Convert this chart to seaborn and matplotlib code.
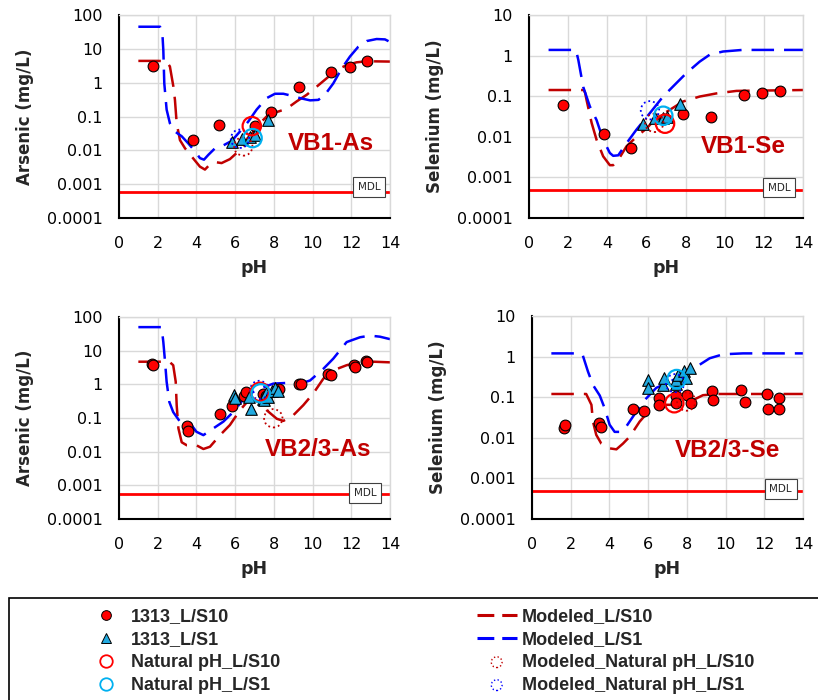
import numpy as np
import matplotlib
matplotlib.use("Agg")
import matplotlib.pyplot as plt
import seaborn as sns
from matplotlib.lines import Line2D
from matplotlib.patches import Rectangle
from matplotlib.font_manager import FontProperties
from matplotlib.ticker import FixedLocator, FixedFormatter, MultipleLocator, LogLocator, NullFormatter

sns.set_style("white")
plt.rcParams['font.family'] = ['DejaVu Sans']

# ---------------- data: VB1-As ----------------
as1_ph10 = [1.74, 3.81, 5.18, 7.00, 7.87, 9.30, 10.95, 11.92, 12.83]
as1_c10 = [3.2, 0.020, 0.056, 0.052, 0.14, 0.73, 2.1, 3.0, 4.3]
as1_ph1 = [5.82, 6.34, 6.77, 7.02, 7.71]
as1_c1 = [0.018, 0.021, 0.025, 0.028, 0.079]
as1_nat10_ph = [6.86]
as1_nat10_c = [0.052]
as1_nat1_ph = [6.90]
as1_nat1_c = [0.023]
as1_mnat10_ph = [6.42]
as1_mnat10_c = [0.013]
as1_mnat1_ph = [6.25]
as1_mnat1_c = [0.022]
as1_mod10_ph = [1.0, 2.0, 2.45, 2.63, 2.81, 2.89, 2.98, 3.15, 3.41, 3.75, 4.18, 4.44, 4.67, 4.96, 5.30, 5.73,
                6.17, 6.60, 6.94, 7.37, 7.80, 8.23, 8.66, 9.18, 9.70, 10.21, 10.73, 11.25, 11.76, 12.28, 12.80, 14.0]
as1_mod10_c = [4.4, 4.4, 4.3, 3.0, 0.76, 0.31, 0.063, 0.020, 0.0115, 0.0066, 0.0033, 0.0027, 0.0037, 0.0045, 0.0042,
               0.0055, 0.0093, 0.016, 0.036, 0.071, 0.126, 0.14, 0.17, 0.28, 0.44, 0.76, 1.35, 2.4, 3.3, 4.0, 4.3, 4.2]
as1_mod1_ph = [1.0, 2.12, 2.24, 2.29, 2.34, 2.46, 2.63, 2.89, 3.24, 3.58, 3.93, 4.18, 4.39, 4.62, 4.96, 5.39, 5.82,
               6.25, 6.68, 7.11, 7.63, 8.06, 8.49, 8.92, 9.35, 9.87, 10.30, 10.64, 11.07, 11.50, 11.93, 12.36, 12.80,
               13.31, 13.74, 14.0]
as1_mod1_c = [45, 45, 29, 9, 0.95, 0.16, 0.063, 0.036, 0.026, 0.016, 0.0093, 0.0059, 0.0053, 0.0074, 0.0115, 0.014,
              0.019, 0.036, 0.071, 0.16, 0.35, 0.47, 0.47, 0.41, 0.35, 0.30, 0.31, 0.44, 0.95, 2.6, 5.9, 11.5, 17,
              19.5, 19, 16]
as1_mdl = 0.00057

# ---------------- data: VB1-Se ----------------
se1_ph10 = [1.75, 3.83, 5.21, 6.90, 7.85, 9.30, 10.97, 11.92, 12.84]
se1_c10 = [0.060, 0.0115, 0.0053, 0.028, 0.036, 0.030, 0.107, 0.117, 0.138]
se1_ph1 = [5.84, 6.44, 6.86, 7.03, 7.72]
se1_c1 = [0.021, 0.029, 0.029, 0.030, 0.065]
se1_nat10_ph = [6.95]
se1_nat10_c = [0.021]
se1_nat1_ph = [6.86]
se1_nat1_c = [0.033]
se1_mnat10_ph = [6.40]
se1_mnat10_c = [0.022]
se1_mnat1_ph = [6.18]
se1_mnat1_c = [0.045]
se1_mod10_ph = [1.0, 2.8, 2.87, 2.94, 3.2, 3.45, 3.79, 4.13, 4.30, 4.56, 4.98, 5.49, 6.0, 6.51, 7.19, 7.87, 8.72,
                9.57, 10.6, 14.0]
se1_mod10_c = [0.142, 0.142, 0.12, 0.081, 0.022, 0.0085, 0.0033, 0.0020, 0.0020, 0.0027, 0.0058, 0.010, 0.016,
               0.029, 0.046, 0.074, 0.098, 0.117, 0.135, 0.142]
se1_mod1_ph = [1.0, 2.4, 2.52, 2.77, 3.11, 3.45, 3.79, 4.13, 4.30, 4.56, 4.98, 5.49, 6.17, 6.85, 7.53, 8.04, 8.72,
               9.23, 9.91, 10.9, 14.0]
se1_mod1_c = [1.38, 1.38, 0.78, 0.17, 0.056, 0.026, 0.0085, 0.004, 0.0034, 0.0035, 0.0069, 0.015, 0.038, 0.098,
              0.21, 0.37, 0.71, 1.05, 1.26, 1.38, 1.38]
se1_mdl = 0.0005

# ---------------- data: VB2/3-As ----------------
as2_ph10 = [1.72, 1.76, 3.50, 3.58, 5.22, 5.82, 6.47, 6.56, 7.45, 7.60, 8.28, 9.31, 9.40, 10.81, 10.95, 12.16,
            12.19, 12.78, 12.80]
as2_c10 = [4.0, 3.8, 0.059, 0.041, 0.13, 0.23, 0.45, 0.60, 0.52, 0.46, 0.71, 1.0, 1.05, 2.0, 1.85, 3.7, 3.2,
           5.1, 4.6]
as2_ph1 = [5.94, 6.00, 6.73, 6.80, 7.42, 7.50, 7.59, 7.71, 7.89, 8.06, 8.23]
as2_c1 = [0.48, 0.40, 0.43, 0.18, 0.36, 0.34, 0.56, 0.41, 0.65, 0.76, 0.65]
as2_nat10_ph = [7.28]
as2_nat10_c = [0.60]
as2_nat1_ph = [7.32]
as2_nat1_c = [0.54]
as2_mnat10_ph = [7.97]
as2_mnat10_c = [0.098]
as2_mnat1_ph = [7.25]
as2_mnat1_c = [0.68]
as2_mod10_ph = [1.0, 2.6, 2.8, 2.93, 2.98, 3.07, 3.24, 3.5, 4.0, 4.36, 4.7, 5.22, 5.73, 6.25, 6.77, 7.2, 7.63,
                8.15, 8.49, 9.0, 9.52, 10.04, 10.56, 11.07, 11.76, 12.45, 13.14, 14.0]
as2_mod10_c = [4.7, 4.7, 3.7, 1.2, 0.24, 0.049, 0.019, 0.0155, 0.0155, 0.012, 0.014, 0.031, 0.062, 0.17, 0.38,
               0.30, 0.17, 0.095, 0.082, 0.12, 0.24, 0.54, 1.48, 2.6, 3.7, 4.6, 4.7, 4.5]
as2_mod1_ph = [1.0, 2.2, 2.29, 2.38, 2.46, 2.6, 2.8, 3.15, 3.67, 4.0, 4.36, 4.87, 5.39, 5.9, 6.6, 7.28, 7.97,
               8.66, 9.35, 9.87, 10.56, 11.07, 11.76, 12.45, 12.97, 13.48, 14.0]
as2_mod1_c = [50, 50, 18, 4.6, 1.2, 0.30, 0.15, 0.078, 0.07, 0.039, 0.031, 0.049, 0.078, 0.15, 0.48, 0.74, 1.05,
              1.1, 1.05, 1.3, 2.9, 5.8, 18, 25, 28, 26, 22]
as2_mdl = 0.00055

# ---------------- data: VB2/3-Se ----------------
se2_ph10 = [1.64, 1.72, 3.48, 3.55, 5.20, 5.80, 6.56, 6.56, 7.42, 7.42, 7.99, 8.20, 9.32, 9.35, 10.81, 10.99,
            12.14, 12.19, 12.76, 12.76]
se2_c10 = [0.017, 0.021, 0.023, 0.018, 0.050, 0.046, 0.093, 0.065, 0.11, 0.071, 0.115, 0.074, 0.145, 0.085,
           0.15, 0.077, 0.12, 0.050, 0.093, 0.050]
se2_ph1 = [5.98, 5.98, 6.78, 6.83, 7.42, 7.46, 7.54, 7.84, 7.94, 8.15]
se2_c1 = [0.26, 0.17, 0.20, 0.30, 0.21, 0.26, 0.36, 0.45, 0.29, 0.51]
se2_nat10_ph = [7.35]
se2_nat10_c = [0.071]
se2_nat1_ph = [7.47]
se2_nat1_c = [0.28]
se2_mnat10_ph = [7.97]
se2_mnat10_c = [0.078]
se2_mnat1_ph = [7.39]
se2_mnat1_c = [0.22]
se2_mod10_ph = [1.0, 2.8, 3.07, 3.15, 3.32, 3.58, 4.01, 4.36, 4.7, 5.05, 5.56, 6.08, 6.6, 7.28, 7.8, 8.32, 8.83,
                9.52, 14.0]
se2_mod10_c = [0.12, 0.12, 0.065, 0.025, 0.0118, 0.0072, 0.0055, 0.0052, 0.0072, 0.0107, 0.025, 0.048, 0.065,
               0.065, 0.071, 0.085, 0.112, 0.12, 0.12]
se2_mod1_ph = [1.0, 2.5, 2.63, 2.89, 3.15, 3.5, 3.75, 4.01, 4.27, 4.53, 4.87, 5.39, 5.9, 6.42, 7.11, 7.8, 8.49,
               9.18, 9.87, 10.9, 14.0]
se2_mod1_c = [1.2, 1.2, 1.05, 0.43, 0.2, 0.11, 0.054, 0.021, 0.014, 0.014, 0.019, 0.044, 0.093, 0.17, 0.24, 0.35,
              0.56, 0.91, 1.14, 1.2, 1.2]
se2_mdl = 0.0005

# ---------------- labels ----------------
panel_titles = ["VB1-As", "VB1-Se", "VB2/3-As", "VB2/3-Se"]
y_labels = ["Arsenic (mg/L)", "Selenium (mg/L)", "Arsenic (mg/L)", "Selenium (mg/L)"]
x_label = "pH"
legend_labels = ["1313_L/S10", "1313_L/S1", "Natural pH_L/S10", "Natural pH_L/S1",
                 "Modeled_L/S10", "Modeled_L/S1", "Modeled_Natural pH_L/S10", "Modeled_Natural pH_L/S1"]
x_ticks = [0, 2, 4, 6, 8, 10, 12, 14]
y_ticks_as = [1e-4, 1e-3, 1e-2, 1e-1, 1, 10, 100]
y_ticklabels_as = ["0.0001", "0.001", "0.01", "0.1", "1", "10", "100"]
y_ticks_se = [1e-4, 1e-3, 1e-2, 1e-1, 1, 10]
y_ticklabels_se = ["0.0001", "0.001", "0.01", "0.1", "1", "10"]

# ---------------- styles ----------------
RED = "#FF0000"
DARKRED = "#C00000"
BLUE = "#0000FF"
TRI = "#22AAE0"
CYAN = "#00B0F0"
GRID = "#D9D9D9"
DASH = (0, (9, 4))

fig = plt.figure(figsize=(8.18, 7.0), dpi=100)
W, H = 818.0, 700.0


def add_ax(left, right, top, bottom):
    return fig.add_axes([left / W, 1 - bottom / H, (right - left) / W, (bottom - top) / H])


axes = [add_ax(119, 390, 15, 218), add_ax(529, 803, 15, 218),
        add_ax(119, 390, 317, 519), add_ax(532, 803, 316, 519)]

panels = [
    (as1_ph10, as1_c10, as1_ph1, as1_c1, as1_nat10_ph, as1_nat10_c, as1_nat1_ph, as1_nat1_c,
     as1_mnat10_ph, as1_mnat10_c, as1_mnat1_ph, as1_mnat1_c, as1_mod10_ph, as1_mod10_c, as1_mod1_ph, as1_mod1_c,
     as1_mdl, y_ticks_as, y_ticklabels_as, (0.782, 0.365), (0.9225, 0.153)),
    (se1_ph10, se1_c10, se1_ph1, se1_c1, se1_nat10_ph, se1_nat10_c, se1_nat1_ph, se1_nat1_c,
     se1_mnat10_ph, se1_mnat10_c, se1_mnat1_ph, se1_mnat1_c, se1_mod10_ph, se1_mod10_c, se1_mod1_ph, se1_mod1_c,
     se1_mdl, y_ticks_se, y_ticklabels_se, (0.781, 0.350), (0.914, 0.150)),
    (as2_ph10, as2_c10, as2_ph1, as2_c1, as2_nat10_ph, as2_nat10_c, as2_nat1_ph, as2_nat1_c,
     as2_mnat10_ph, as2_mnat10_c, as2_mnat1_ph, as2_mnat1_c, as2_mod10_ph, as2_mod10_c, as2_mod1_ph, as2_mod1_c,
     as2_mdl, y_ticks_as, y_ticklabels_as, (0.734, 0.342), (0.908, 0.129)),
    (se2_ph10, se2_c10, se2_ph1, se2_c1, se2_nat10_ph, se2_nat10_c, se2_nat1_ph, se2_nat1_c,
     se2_mnat10_ph, se2_mnat10_c, se2_mnat1_ph, se2_mnat1_c, se2_mod10_ph, se2_mod10_c, se2_mod1_ph, se2_mod1_c,
     se2_mdl, y_ticks_se, y_ticklabels_se, (0.723, 0.335), (0.917, 0.148)),
]

for i, (ax, p) in enumerate(zip(axes, panels)):
    (ph10, c10, ph1, c1, n10x, n10y, n1x, n1y, m10x, m10y, m1x, m1y,
     mod10x, mod10y, mod1x, mod1y, mdl, yt, ytl, title_xy, mdl_xy) = p
    ax.set_yscale("log")
    ax.set_xlim(0, 14)
    ax.set_ylim(yt[0], yt[-1])

    sns.lineplot(x=[0, 14], y=[mdl, mdl], ax=ax, color=RED, lw=2.0, estimator=None, sort=False, zorder=2)
    sns.lineplot(x=mod10x, y=mod10y, ax=ax, color=DARKRED, lw=1.8, linestyle=DASH,
                 estimator=None, sort=False, zorder=2)
    sns.lineplot(x=mod1x, y=mod1y, ax=ax, color=BLUE, lw=1.8, linestyle=DASH,
                 estimator=None, sort=False, zorder=2)
    sns.scatterplot(x=ph10, y=c10, ax=ax, color=RED, edgecolor="black", linewidth=0.8, s=60,
                    marker="o", zorder=3)
    sns.scatterplot(x=ph1, y=c1, ax=ax, color=TRI, edgecolor="black", linewidth=0.8, s=70,
                    marker="^", zorder=4)
    sns.scatterplot(x=m10x, y=m10y, ax=ax, facecolor="none", edgecolor=DARKRED, linewidth=1.3,
                    linestyle=":", s=175, marker="o", zorder=5)
    sns.scatterplot(x=m1x, y=m1y, ax=ax, facecolor="none", edgecolor=BLUE, linewidth=1.3,
                    linestyle=":", s=175, marker="o", zorder=5)
    sns.scatterplot(x=n10x, y=n10y, ax=ax, facecolor="none", edgecolor=RED, linewidth=1.6,
                    s=175, marker="o", zorder=6)
    sns.scatterplot(x=n1x, y=n1y, ax=ax, facecolor="none", edgecolor=CYAN, linewidth=1.6,
                    s=175, marker="o", zorder=6)

    ax.set_xlim(0, 14)
    ax.set_ylim(yt[0], yt[-1])
    ax.xaxis.set_major_locator(FixedLocator(x_ticks))
    ax.xaxis.set_major_formatter(FixedFormatter([str(t) for t in x_ticks]))
    ax.xaxis.set_minor_locator(MultipleLocator(0.4))
    ax.yaxis.set_major_locator(FixedLocator(yt))
    ax.yaxis.set_major_formatter(FixedFormatter(ytl))
    ax.yaxis.set_minor_locator(LogLocator(base=10, subs=np.arange(2, 10) * 1.0, numticks=30))
    ax.yaxis.set_minor_formatter(NullFormatter())
    ax.tick_params(axis="both", which="major", direction="inout", length=6.5, width=1.2,
                   labelsize=11.5, colors="black")
    ax.tick_params(axis="x", which="major", pad=9.5)
    ax.tick_params(axis="y", which="major", pad=8.5)
    ax.tick_params(axis="both", which="minor", direction="in", length=3, width=1.0, colors="black")
    ax.tick_params(top=False, right=False, which="both")
    ax.grid(True, which="major", color=GRID, lw=1.0)
    ax.set_axisbelow(True)
    for s in ["left", "bottom"]:
        ax.spines[s].set_color("black")
        ax.spines[s].set_linewidth(1.5)
    for s in ["top", "right"]:
        ax.spines[s].set_color(GRID)
        ax.spines[s].set_linewidth(1.0)

    ax.set_xlabel(x_label, fontsize=12.5, fontweight="bold", labelpad=6)
    ax.set_ylabel(y_labels[i], fontsize=12, fontweight="bold", labelpad=9)

    ax.text(title_xy[0], title_xy[1], panel_titles[i], transform=ax.transAxes, ha="center", va="center",
            fontsize=17.5, fontweight="bold", color=DARKRED, family=["Liberation Sans", "DejaVu Sans"],
            zorder=7)
    ax.text(mdl_xy[0], mdl_xy[1], "MDL", transform=ax.transAxes, ha="center", va="center", fontsize=7.5,
            bbox=dict(boxstyle="square,pad=0.45", facecolor="white", edgecolor="#404040", lw=0.8), zorder=7)

# ---------------- legend ----------------
h_dot = Line2D([], [], linestyle="none", marker="o", markersize=7, markerfacecolor=RED,
               markeredgecolor="black", markeredgewidth=0.7)
h_tri = Line2D([], [], linestyle="none", marker="^", markersize=7, markerfacecolor=TRI,
               markeredgecolor="black", markeredgewidth=0.7)
h_nat10 = Line2D([], [], linestyle="none", marker="o", markersize=9, markerfacecolor="none",
                 markeredgecolor=RED, markeredgewidth=1.3)
h_nat1 = Line2D([], [], linestyle="none", marker="o", markersize=9, markerfacecolor="none",
                markeredgecolor=CYAN, markeredgewidth=1.3)
h_m10 = Line2D([], [], color=DARKRED, lw=2.2, linestyle=(0, (5.5, 2.6)))
h_m1 = Line2D([], [], color=BLUE, lw=2.2, linestyle=(0, (5.5, 2.6)))
h_mn10 = axes[0].scatter([], [], marker="o", s=60, facecolors="none", edgecolors=DARKRED, linewidths=1.0,
                         linestyle=":")
h_mn1 = axes[0].scatter([], [], marker="o", s=60, facecolors="none", edgecolors=BLUE, linewidths=1.0,
                        linestyle=":")

handles = [h_dot, h_tri, h_nat10, h_nat1, h_m10, h_m1, h_mn10, h_mn1]
leg_font = FontProperties(family=["Liberation Sans", "DejaVu Sans"], weight="bold", size=13)
fig.legend(handles, legend_labels, ncol=2, loc="upper left", bbox_to_anchor=(86 / W, 1 - 608 / H),
           bbox_transform=fig.transFigure, frameon=False, prop=leg_font, handlelength=2.2,
           handletextpad=0.28, columnspacing=10.9, labelspacing=0.33, borderpad=0, borderaxespad=0,
           scatterpoints=1, numpoints=1)

fig.add_artist(Rectangle((9 / W, -0.05), 1.0, 1 - 598 / H + 0.05, transform=fig.transFigure,
                         facecolor="none", edgecolor="black", lw=1.2))

fig.savefig("out.png", dpi=100)
